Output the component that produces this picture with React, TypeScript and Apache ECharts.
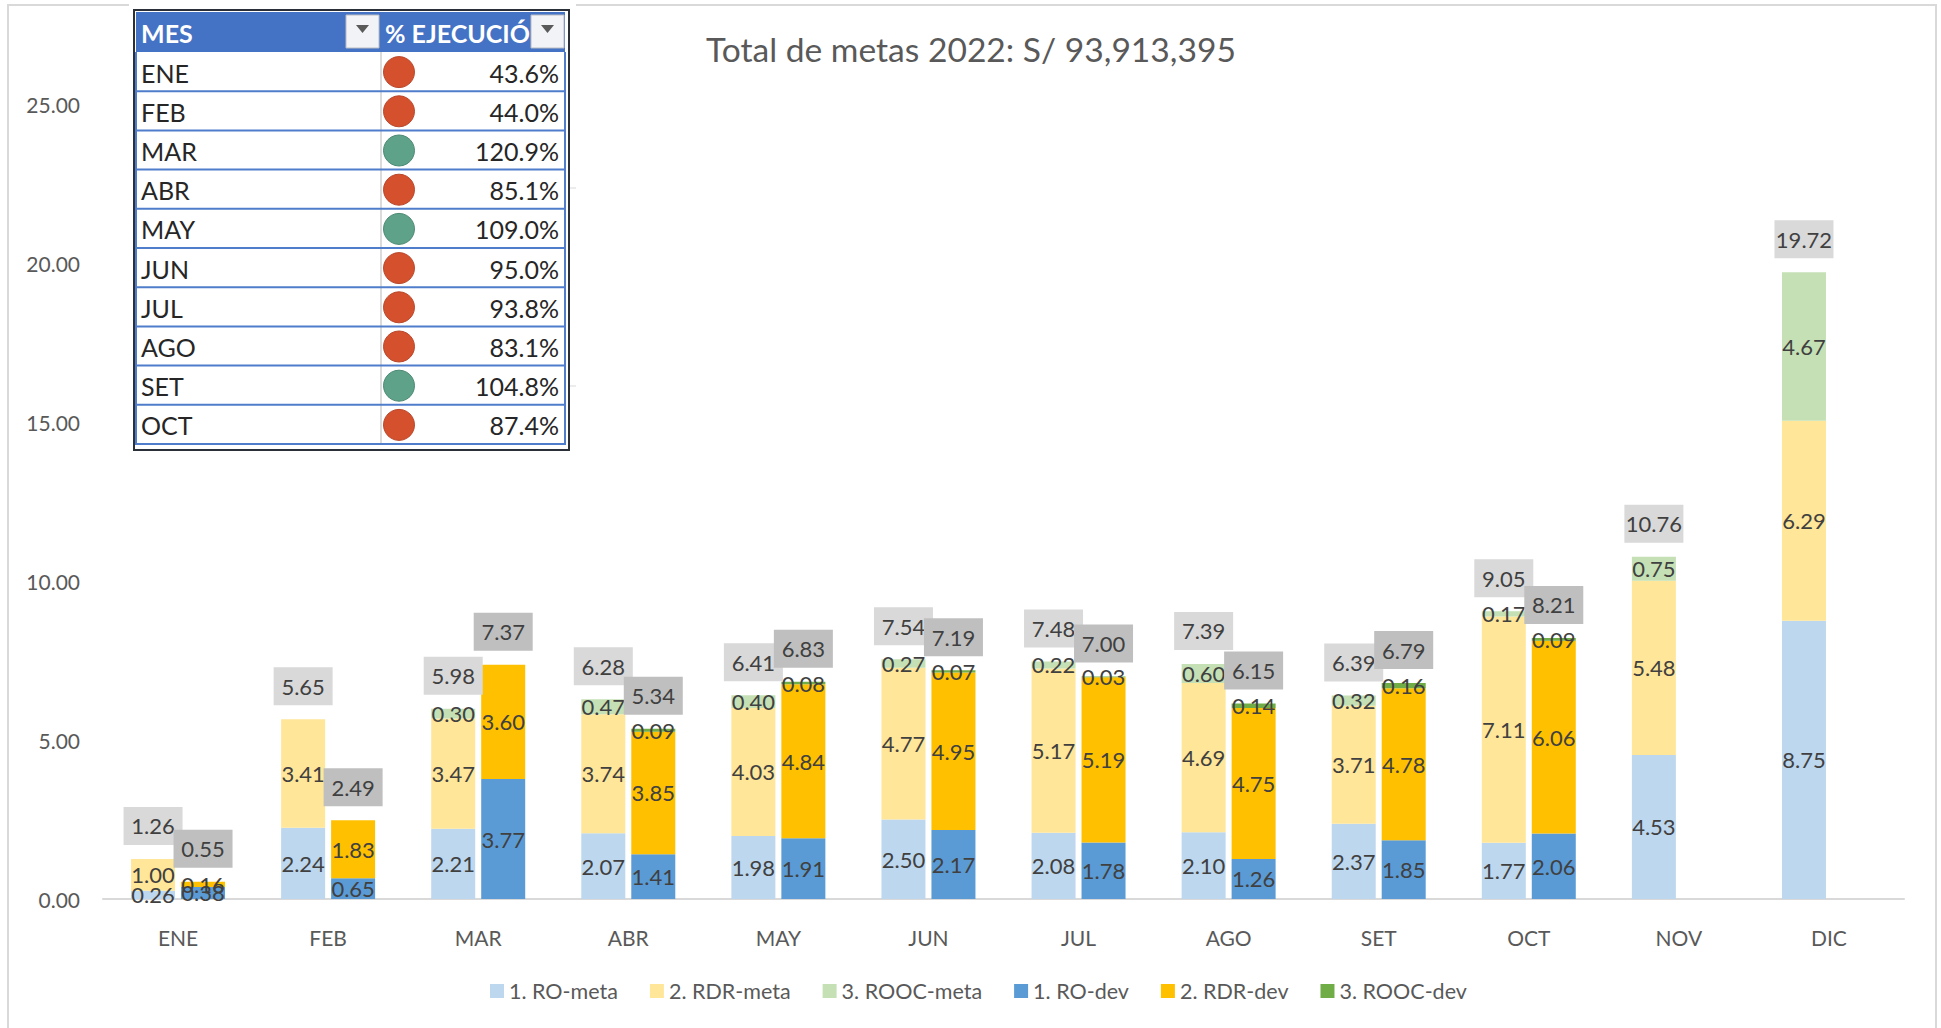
import React, { useEffect, useRef } from "react";
import * as echarts from "echarts";

const months = ["ENE", "FEB", "MAR", "ABR", "MAY", "JUN", "JUL", "AGO", "SET", "OCT", "NOV", "DIC"];
const roMeta = [0.26, 2.24, 2.21, 2.07, 1.98, 2.5, 2.08, 2.1, 2.37, 1.77, 4.53, 8.75];
const rdrMeta = [1.0, 3.41, 3.47, 3.74, 4.03, 4.77, 5.17, 4.69, 3.71, 7.11, 5.48, 6.29];
const roocMeta = [null, null, 0.3, 0.47, 0.4, 0.27, 0.22, 0.6, 0.32, 0.17, 0.75, 4.67];
const roDev = [0.38, 0.65, 3.77, 1.41, 1.91, 2.17, 1.78, 1.26, 1.85, 2.06, null, null];
const rdrDev = [0.16, 1.83, 3.6, 3.85, 4.84, 4.95, 5.19, 4.75, 4.78, 6.06, null, null];
const roocDev = [null, null, null, 0.09, 0.08, 0.07, 0.03, 0.14, 0.16, 0.09, null, null];
const totalMeta = [1.26, 5.65, 5.98, 6.28, 6.41, 7.54, 7.48, 7.39, 6.39, 9.05, 10.76, 19.72];
const totalDev = [0.55, 2.49, 7.37, 5.34, 6.83, 7.19, 7.0, 6.15, 6.79, 8.21, null, null];

const tableMonths = ["ENE", "FEB", "MAR", "ABR", "MAY", "JUN", "JUL", "AGO", "SET", "OCT"];
const tablePct = ["43.6%", "44.0%", "120.9%", "85.1%", "109.0%", "95.0%", "93.8%", "83.1%", "104.8%", "87.4%"];
const tableOk = [false, false, true, false, true, false, false, false, true, false];

const chartTitle = "Total de metas 2022: S/ 93,913,395";
const FONT = "Lato";

function tableGraphics(): any[] {
  const z = 10;
  const out: any[] = [];
  const rowH = 39.2;
  const top = 52;
  const L = 136;
  const R = 565;
  const mid = 381;
  out.push({ type: "rect", z, shape: { x: 129, y: 0, width: 447, height: 12 }, style: { fill: "#ffffff" } });
  out.push({ type: "rect", z, shape: { x: 134, y: 10, width: 435, height: 440 }, style: { fill: "#ffffff", stroke: "#2b2f38", lineWidth: 2 } });
  out.push({ type: "rect", z, shape: { x: L, y: 12, width: R - L, height: top - 12 }, style: { fill: "#4472c4" } });
  out.push({ type: "line", z, shape: { x1: mid, y1: top, x2: mid, y2: 444 }, style: { stroke: "#cfcfcf", lineWidth: 1.5 } });
  out.push({ type: "line", z, shape: { x1: L, y1: top, x2: L, y2: 445 }, style: { stroke: "#4f7ccb", lineWidth: 2 } });
  out.push({ type: "line", z, shape: { x1: R, y1: top, x2: R, y2: 445 }, style: { stroke: "#4f7ccb", lineWidth: 2 } });
  out.push({ type: "text", z: z + 1, x: 141, y: 33, style: { text: "MES", fill: "#ffffff", font: `bold 25px ${FONT}`, textAlign: "left", textVerticalAlign: "middle" } });
  out.push({ type: "text", z: z + 1, x: 385, y: 33, style: { text: "% EJECUCIÓN", fill: "#ffffff", font: `bold 25px ${FONT}`, textAlign: "left", textVerticalAlign: "middle" } });
  [346, 531].forEach((bx) => {
    out.push({ type: "rect", z: z + 2, shape: { x: bx, y: 15, width: 33, height: 33 }, style: { fill: "#f1f3f6", stroke: "#b9bcc2", lineWidth: 1 } });
    out.push({ type: "polygon", z: z + 3, shape: { points: [[bx + 10, 25], [bx + 23, 25], [bx + 16.5, 33]] }, style: { fill: "#595959" } });
  });
  tableMonths.forEach((m, i) => {
    const cy = top + rowH * (i + 0.5);
    const lineY = top + rowH * (i + 1);
    out.push({ type: "line", z, shape: { x1: L, y1: lineY, x2: R, y2: lineY }, style: { stroke: "#4f7ccb", lineWidth: 2 } });
    out.push({ type: "text", z: z + 1, x: 141, y: cy + 1, style: { text: m, fill: "#262626", font: `25px ${FONT}`, textAlign: "left", textVerticalAlign: "middle" } });
    out.push({ type: "circle", z: z + 1, shape: { cx: 399, cy: cy + 0.5, r: 15.5 }, style: { fill: tableOk[i] ? "#5fa28a" : "#d5502c", stroke: tableOk[i] ? "#4c8a74" : "#b9472b", lineWidth: 1 } });
    out.push({ type: "text", z: z + 1, x: 559, y: cy + 1, style: { text: tablePct[i], fill: "#262626", font: `25px ${FONT}`, textAlign: "right", textVerticalAlign: "middle" } });
  });
  return out;
}

export default function App() {
  const ref = useRef<HTMLDivElement>(null);
  useEffect(() => {
    document.body.style.margin = "0";
    const chart = echarts.init(ref.current!, undefined, { renderer: "svg" });
    const valueLabel = {
      show: true,
      position: "inside",
      fontFamily: FONT,
      fontSize: 22,
      color: "#404040",
      formatter: (p: any) => Number(p.value).toFixed(2),
    };
    const part = (name: string, stack: string, data: any[], color: string) => ({
      name,
      type: "bar",
      stack,
      data,
      barWidth: 44,
      barGap: "13.6%",
      itemStyle: { color },
      label: valueLabel,
    });
    const total = (name: string, stack: string, totals: any[], box: string) => ({
      name,
      type: "bar",
      stack,
      data: totals.map((t) => (t == null ? null : 0)),
      barWidth: 44,
      barGap: "13.6%",
      itemStyle: { color: "transparent" },
      z: 5,
      label: {
        show: true,
        position: "top",
        distance: 14,
        fontFamily: FONT,
        fontSize: 22,
        color: "#404040",
        backgroundColor: box,
        width: 59,
        height: 38,
        lineHeight: 38,
        align: "center",
        formatter: (p: any) => (totals[p.dataIndex] == null ? "" : totals[p.dataIndex].toFixed(2)),
      },
    });
    chart.setOption({
      animation: false,
      backgroundColor: "#ffffff",
      textStyle: { fontFamily: FONT },
      title: {
        text: chartTitle,
        left: 701,
        top: 27,
        textStyle: { fontFamily: FONT, fontSize: 33.6, fontWeight: "normal", color: "#595959" },
      },
      grid: { left: 103, right: 37, top: 104, bottom: 129 },
      legend: {
        data: ["1. RO-meta", "2. RDR-meta", "3. ROOC-meta", "1. RO-dev", "2. RDR-dev", "3. ROOC-dev"],
        left: 485,
        top: 975,
        icon: "rect",
        itemWidth: 14,
        itemHeight: 14,
        itemGap: 32,
        textStyle: { fontFamily: FONT, fontSize: 21.5, color: "#595959" },
      },
      xAxis: {
        type: "category",
        data: months,
        axisLine: { lineStyle: { color: "#d9d9d9", width: 2 } },
        axisTick: { show: false },
        axisLabel: { fontFamily: FONT, fontSize: 21, color: "#595959", margin: 28 },
      },
      yAxis: {
        type: "value",
        min: 0,
        max: 25,
        interval: 5,
        splitLine: { show: false },
        axisLine: { show: false },
        axisTick: { show: false },
        axisLabel: { fontFamily: FONT, fontSize: 21, color: "#595959", margin: 23, padding: [0, 0, 2, 0], formatter: (v: number) => v.toFixed(2) },
      },
      series: [
        part("1. RO-meta", "meta", roMeta, "#bdd7ee"),
        part("2. RDR-meta", "meta", rdrMeta, "#ffe699"),
        part("3. ROOC-meta", "meta", roocMeta, "#c5e0b4"),
        total("Total meta", "meta", totalMeta, "#d9d9d9"),
        part("1. RO-dev", "dev", roDev, "#5b9bd5"),
        part("2. RDR-dev", "dev", rdrDev, "#ffc000"),
        part("3. ROOC-dev", "dev", roocDev, "#70ad47"),
        total("Total dev", "dev", totalDev, "#bfbfbf"),
      ],
      graphic: [
        { type: "rect", z: 0, shape: { x: 8, y: 5, width: 1928, height: 1040 }, style: { fill: "none", stroke: "#d9d9d9", lineWidth: 2 } },
        { type: "line", z: 0, shape: { x1: 569, y1: 188, x2: 576, y2: 188 }, style: { stroke: "#e6e6e6", lineWidth: 1.5 } },
        { type: "line", z: 0, shape: { x1: 569, y1: 386, x2: 576, y2: 386 }, style: { stroke: "#e6e6e6", lineWidth: 1.5 } },
        ...tableGraphics(),
      ],
    });
    return () => chart.dispose();
  }, []);
  return <div ref={ref} style={{ position: "fixed", left: 0, top: 0, width: 1941, height: 1028 }} />;
}
